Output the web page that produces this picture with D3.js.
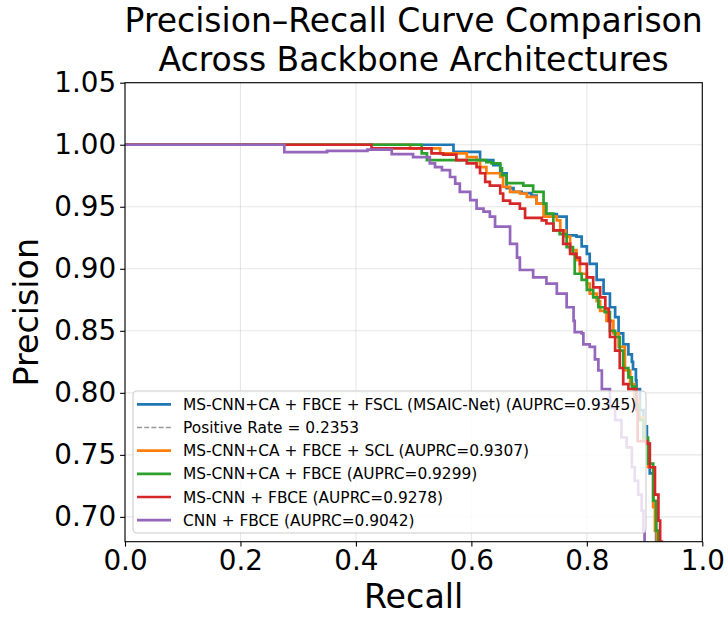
<!DOCTYPE html>
<html>
<head>
<meta charset="utf-8">
<script src="https://cdn.jsdelivr.net/npm/d3@7/dist/d3.min.js"></script>
<style>
    html, body { margin: 0; padding: 0; background: #fff; }
    svg text { font-family: "DejaVu Sans", sans-serif; fill: #000; }
</style>
</head>
<body>
<div id="js-chart"></div>
<script>
// 各模型 PR 曲线（recall, precision），按阶梯读取
var msaicPts = [
    [0, 1.0], [0.569, 0.9943], [0.615, 0.9876], [0.638, 0.9835], [0.650, 0.977],
    [0.661, 0.965], [0.673, 0.962], [0.687, 0.961], [0.704, 0.959], [0.713, 0.9526],
    [0.728, 0.944], [0.748, 0.942], [0.765, 0.927], [0.782, 0.926], [0.791, 0.918],
    [0.800, 0.912], [0.805, 0.904], [0.817, 0.891], [0.829, 0.880], [0.840, 0.869],
    [0.849, 0.861], [0.855, 0.848], [0.863, 0.839], [0.872, 0.831], [0.878, 0.825],
    [0.880, 0.819], [0.885, 0.810], [0.886, 0.803], [0.892, 0.786], [0.898, 0.773],
    [0.904, 0.759], [0.909, 0.735], [0.915, 0.708], [0.920, 0.680], [0.922, 0.660]
];
var sclPts = [
    [0, 1.0], [0.494, 0.997], [0.546, 0.993], [0.592, 0.990], [0.609, 0.9876],
    [0.615, 0.982], [0.626, 0.977], [0.650, 0.974], [0.655, 0.966], [0.667, 0.962],
    [0.684, 0.9607], [0.696, 0.958], [0.713, 0.9526], [0.725, 0.942], [0.748, 0.939],
    [0.754, 0.931], [0.763, 0.926], [0.771, 0.915], [0.782, 0.907], [0.788, 0.896],
    [0.800, 0.888], [0.805, 0.880], [0.817, 0.874], [0.823, 0.866], [0.834, 0.858],
    [0.846, 0.848], [0.855, 0.837], [0.866, 0.818], [0.875, 0.807], [0.882, 0.795],
    [0.889, 0.780], [0.898, 0.761], [0.906, 0.740], [0.915, 0.708], [0.918, 0.689],
    [0.921, 0.660]
];
var caPts = [
    [0, 1.0], [0.514, 0.993], [0.523, 0.9876], [0.626, 0.986], [0.635, 0.985],
    [0.650, 0.981], [0.653, 0.9755], [0.661, 0.969], [0.690, 0.967], [0.707, 0.962],
    [0.725, 0.9526], [0.730, 0.9445], [0.742, 0.931], [0.753, 0.928], [0.765, 0.9175],
    [0.776, 0.912], [0.779, 0.896], [0.791, 0.891], [0.800, 0.883], [0.811, 0.877],
    [0.820, 0.869], [0.831, 0.865], [0.840, 0.850], [0.849, 0.845], [0.857, 0.834],
    [0.863, 0.820], [0.872, 0.8125], [0.878, 0.805], [0.885, 0.790], [0.891, 0.778],
    [0.898, 0.764], [0.906, 0.743], [0.915, 0.713], [0.920, 0.689], [0.924, 0.680],
    [0.926, 0.660]
];
var mscnnPts = [
    [0, 1.0], [0.427, 0.997], [0.531, 0.993], [0.551, 0.992], [0.574, 0.9876],
    [0.592, 0.985], [0.609, 0.982], [0.615, 0.977], [0.624, 0.970], [0.632, 0.967],
    [0.650, 0.9607], [0.655, 0.955], [0.667, 0.9526], [0.684, 0.9485], [0.693, 0.941],
    [0.722, 0.939], [0.730, 0.9365], [0.742, 0.931], [0.759, 0.920], [0.771, 0.912],
    [0.782, 0.909], [0.788, 0.904], [0.800, 0.893], [0.811, 0.885], [0.823, 0.877],
    [0.832, 0.868], [0.838, 0.858], [0.840, 0.845], [0.849, 0.834], [0.857, 0.820],
    [0.863, 0.807], [0.872, 0.803], [0.886, 0.786], [0.888, 0.761], [0.904, 0.759],
    [0.909, 0.740], [0.918, 0.718], [0.924, 0.697], [0.927, 0.680], [0.930, 0.660]
];
var cnnPts = [
    [0, 1.0], [0.276, 0.994], [0.35, 0.995], [0.42, 0.996], [0.462, 0.9924],
    [0.499, 0.990], [0.528, 0.985], [0.537, 0.982], [0.549, 0.9795], [0.563, 0.974],
    [0.572, 0.9687], [0.580, 0.962], [0.598, 0.9553], [0.609, 0.9485], [0.621, 0.946],
    [0.632, 0.942], [0.641, 0.934], [0.667, 0.920], [0.679, 0.909], [0.684, 0.899],
    [0.707, 0.893], [0.730, 0.888], [0.748, 0.880], [0.765, 0.869], [0.777, 0.858],
    [0.779, 0.849], [0.791, 0.848], [0.794, 0.839], [0.805, 0.837], [0.814, 0.827],
    [0.820, 0.818], [0.826, 0.803], [0.840, 0.788], [0.849, 0.778], [0.860, 0.764],
    [0.869, 0.756], [0.878, 0.740], [0.883, 0.729], [0.889, 0.718], [0.895, 0.705],
    [0.898, 0.689], [0.900, 0.660]
];

var positiveRate = 0.2353;

var seriesNames = [
    "MS-CNN+CA + FBCE + FSCL (MSAIC-Net) (AUPRC=0.9345)",
    "MS-CNN+CA + FBCE + SCL (AUPRC=0.9307)",
    "MS-CNN+CA + FBCE (AUPRC=0.9299)",
    "MS-CNN + FBCE (AUPRC=0.9278)",
    "CNN + FBCE (AUPRC=0.9042)"
];
var seriesColors = ["#1f77b4", "#ff7f0e", "#2ca02c", "#d62728", "#9467bd"];
var seriesPts = [msaicPts, sclPts, caPts, mscnnPts, cnnPts];

var xTicks = [0, 0.2, 0.4, 0.6, 0.8, 1.0];
var yTicks = [0.70, 0.75, 0.80, 0.85, 0.90, 0.95, 1.00, 1.05];

var titleLines = ["Precision\u2013Recall Curve Comparison", "Across Backbone Architectures"];

function drawChart() {
    var W = 728, H = 618;
    var box = {left: 125, right: 702.3, top: 82.7, bottom: 541.7};

    var svg = d3.select("#js-chart").append("svg")
        .attr("width", W)
        .attr("height", H);

    var x = d3.scaleLinear().domain([0, 1]).range([box.left, box.right]);
    var y = d3.scaleLinear().domain([0.68, 1.05]).range([box.bottom, box.top]);

    svg.append("defs").append("clipPath").attr("id", "plot-clip")
        .append("rect")
        .attr("x", box.left).attr("y", box.top)
        .attr("width", box.right - box.left)
        .attr("height", box.bottom - box.top);

    // 网格
    var grid = svg.append("g").attr("class", "grid");
    grid.selectAll(".gx").data(xTicks).enter().append("line")
        .attr("x1", d => x(d)).attr("x2", d => x(d))
        .attr("y1", box.top).attr("y2", box.bottom)
        .attr("stroke", "#b0b0b0").attr("stroke-opacity", 0.3).attr("stroke-width", 1.1);
    grid.selectAll(".gy").data(yTicks).enter().append("line")
        .attr("x1", box.left).attr("x2", box.right)
        .attr("y1", d => y(d)).attr("y2", d => y(d))
        .attr("stroke", "#b0b0b0").attr("stroke-opacity", 0.3).attr("stroke-width", 1.1);

    var plot = svg.append("g").attr("clip-path", "url(#plot-clip)");

    var line = d3.line()
        .x(d => x(d[0]))
        .y(d => y(d[1]))
        .curve(d3.curveStepAfter);

    // 先画 MSAIC-Net，再画基线，然后其他
    function drawSeries(i) {
        plot.append("path")
            .datum(seriesPts[i])
            .attr("d", line)
            .attr("fill", "none")
            .attr("stroke", seriesColors[i])
            .attr("stroke-width", 2.7)
            .attr("stroke-linejoin", "miter");
    }
    drawSeries(0);
    plot.append("line")
        .attr("x1", x(0)).attr("x2", x(1))
        .attr("y1", y(positiveRate)).attr("y2", y(positiveRate))
        .attr("stroke", "#808080").attr("stroke-opacity", 0.8)
        .attr("stroke-width", 1.4).attr("stroke-dasharray", "5,2.2");
    for (var i = 1; i < seriesPts.length; i++) drawSeries(i);

    // 坐标轴
    var xAxis = d3.axisBottom(x).tickValues(xTicks).tickFormat(d3.format(".1f"))
        .tickSizeInner(4.9).tickSizeOuter(0).tickPadding(4);
    var yAxis = d3.axisLeft(y).tickValues(yTicks).tickFormat(d3.format(".2f"))
        .tickSizeInner(4.9).tickSizeOuter(0).tickPadding(4);

    var gx = svg.append("g").attr("transform", "translate(0," + box.bottom + ")").call(xAxis);
    var gy = svg.append("g").attr("transform", "translate(" + box.left + ",0)").call(yAxis);
    [gx, gy].forEach(function (g) {
        g.select(".domain").remove();
        g.selectAll(".tick line").attr("stroke", "#000").attr("stroke-width", 1.1);
        g.selectAll(".tick text")
            .style("font-family", "DejaVu Sans")
            .style("font-size", "27.8px")
            .attr("fill", "#000");
    });

    // 边框
    svg.append("rect")
        .attr("x", box.left).attr("y", box.top)
        .attr("width", box.right - box.left)
        .attr("height", box.bottom - box.top)
        .attr("fill", "none")
        .attr("stroke", "#000")
        .attr("stroke-width", 1.1);

    // 轴标题
    svg.append("text")
        .attr("x", (box.left + box.right) / 2)
        .attr("y", 608)
        .attr("text-anchor", "middle")
        .style("font-size", "33.3px")
        .text("Recall");
    svg.append("text")
        .attr("transform", "translate(38," + ((box.top + box.bottom) / 2) + ") rotate(-90)")
        .attr("text-anchor", "middle")
        .style("font-size", "33.3px")
        .text("Precision");

    // 标题
    svg.append("g").selectAll("text").data(titleLines).enter().append("text")
        .attr("x", (box.left + box.right) / 2)
        .attr("y", (d, i) => 32 + i * 38.5)
        .attr("text-anchor", "middle")
        .style("font-size", "33px")
        .text(d => d);

    drawLegend(svg);
}

// 图例
function drawLegend(svg) {
    var items = [
        {name: seriesNames[0], color: seriesColors[0], dash: null, w: 2.7},
        {name: "Positive Rate = " + positiveRate.toFixed(4), color: "#808080", dash: "5,2.2", w: 1.4},
        {name: seriesNames[1], color: seriesColors[1], dash: null, w: 2.7},
        {name: seriesNames[2], color: seriesColors[2], dash: null, w: 2.7},
        {name: seriesNames[3], color: seriesColors[3], dash: null, w: 2.7},
        {name: seriesNames[4], color: seriesColors[4], dash: null, w: 2.7}
    ];
    var lg = svg.append("g");
    lg.append("rect")
        .attr("x", 133).attr("y", 391)
        .attr("width", 513).attr("height", 142)
        .attr("rx", 4).attr("ry", 4)
        .attr("fill", "#fff").attr("fill-opacity", 0.8)
        .attr("stroke", "#cccccc").attr("stroke-width", 1.1);

    var rowY = d3.scaleLinear().domain([0, 5]).range([404.3, 520.2]);
    var rows = lg.selectAll(".row").data(items).enter().append("g")
        .attr("transform", (d, i) => "translate(0," + rowY(i) + ")");
    rows.append("line")
        .attr("x1", 137).attr("x2", 171)
        .attr("stroke", d => d.color)
        .attr("stroke-opacity", d => d.dash ? 0.8 : 1)
        .attr("stroke-width", d => d.w)
        .attr("stroke-dasharray", d => d.dash);
    rows.append("text")
        .attr("x", 183)
        .attr("dy", "0.36em")
        .style("font-size", "15.4px")
        .text(d => d.name);
}

drawChart();
</script>
</body>
</html>
